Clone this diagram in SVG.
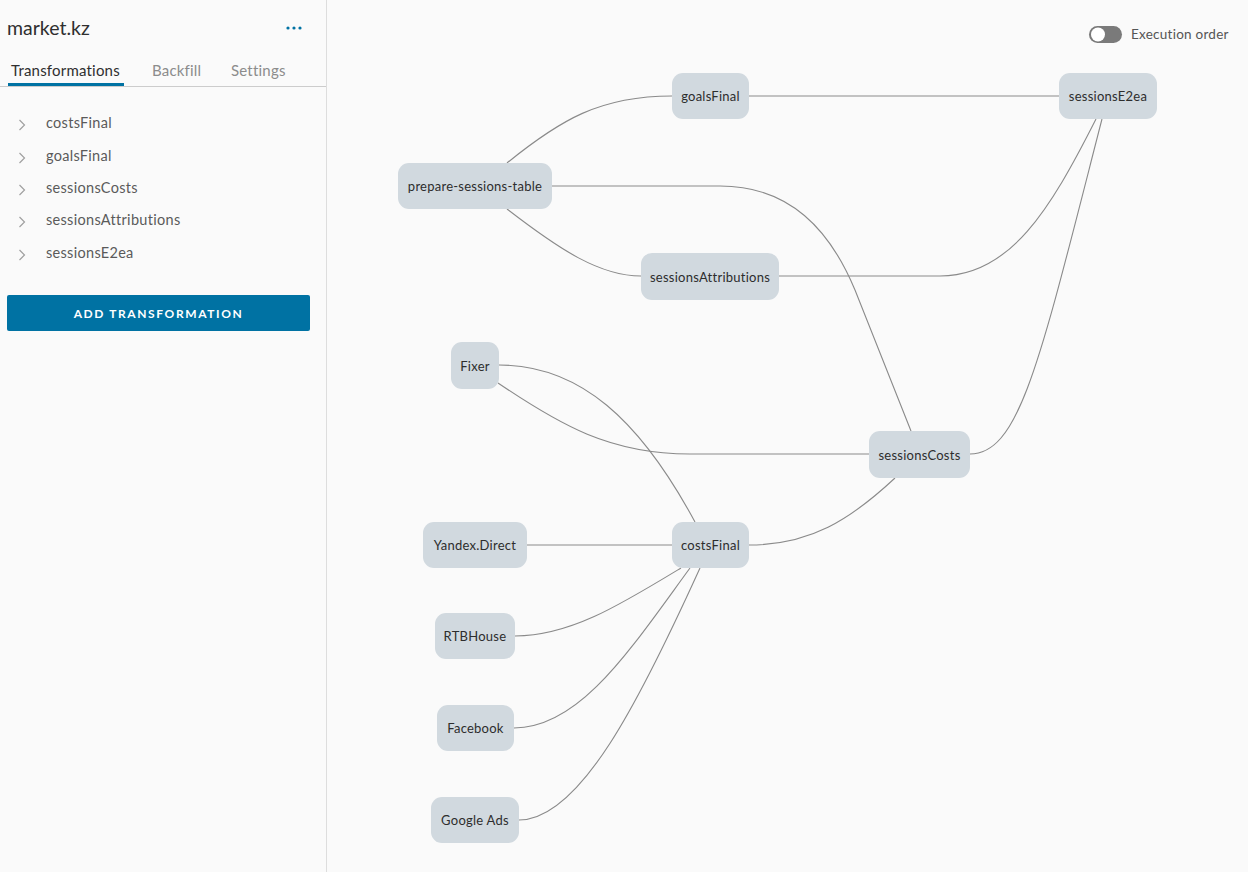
<svg xmlns="http://www.w3.org/2000/svg" width="1248" height="872" viewBox="0 0 1248 872">
<style>
.bg{fill:#fafafa}
.node rect{fill:#d1d9df;rx:11px;ry:11px}
.node text{font-family:Lato,"Open Sans",sans-serif;font-size:13px;letter-spacing:0.25px;fill:#2d2d2d;text-anchor:middle;dominant-baseline:central}
.edge{fill:none;stroke:#8a8a8a;stroke-width:1.1}
.item{font-family:Lato,"Open Sans",sans-serif;font-size:14.5px;letter-spacing:0.3px;fill:#5a5a5a}
.chev{fill:none;stroke:#a0a0a0;stroke-width:1.2}
.tab{font-family:Lato,"Open Sans",sans-serif;font-size:15px;letter-spacing:0.2px;fill:#8c8c8c}
</style>
<rect class="bg" x="0" y="0" width="1248" height="872"/>

<g id="sidebar">
  <line x1="326.5" y1="0" x2="326.5" y2="872" stroke="#dddddd" stroke-width="1"/>
  <text x="7" y="35" font-family="Lato,'Open Sans',sans-serif" font-size="19.5" fill="#2f2f2f">market.kz</text>
  <circle cx="288" cy="28" r="1.6" fill="#0072a3"/>
  <circle cx="294" cy="28" r="1.6" fill="#0072a3"/>
  <circle cx="300" cy="28" r="1.6" fill="#0072a3"/>
  <text class="tab" x="11" y="76" style="fill:#2f2f2f">Transformations</text>
  <text class="tab" x="152" y="76">Backfill</text>
  <text class="tab" x="231" y="76">Settings</text>
  <line x1="0" y1="86.5" x2="326" y2="86.5" stroke="#cccccc" stroke-width="1"/>
  <rect x="8" y="83" width="116" height="3" fill="#0072a3"/>
  <polyline class="chev" points="19.5,120 24.5,125 19.5,130"/>
  <text class="item" x="46" y="128">costsFinal</text>
  <polyline class="chev" points="19.5,153 24.5,158 19.5,163"/>
  <text class="item" x="46" y="161">goalsFinal</text>
  <polyline class="chev" points="19.5,185 24.5,190 19.5,195"/>
  <text class="item" x="46" y="193">sessionsCosts</text>
  <polyline class="chev" points="19.5,217 24.5,222 19.5,227"/>
  <text class="item" x="46" y="225">sessionsAttributions</text>
  <polyline class="chev" points="19.5,250 24.5,255 19.5,260"/>
  <text class="item" x="46" y="258">sessionsE2ea</text>
  <rect x="7" y="295" width="303" height="36" rx="2" fill="#0072a3"/>
  <text x="158.5" y="318" text-anchor="middle" font-family="Lato,'Open Sans',sans-serif" font-size="12" font-weight="bold" letter-spacing="1.6" fill="#ffffff">ADD TRANSFORMATION</text>
</g>

<g id="toggle">
  <rect x="1089" y="26" width="33" height="17" rx="8.5" fill="#7a7a7a"/>
  <circle cx="1098" cy="34.5" r="7" fill="#ffffff"/>
  <text x="1131" y="39" font-family="Lato,'Open Sans',sans-serif" font-size="13.5" letter-spacing="0.25" fill="#555555">Execution order</text>
</g>

<g id="connectors">
  <path class="edge" d="M507,163 C560,120 600,96 672,96"/>
  <path class="edge" d="M749,96 L1059,96"/>
  <path class="edge" d="M552,186 L720,186 C790,186 830,230 855,290 L911,431"/>
  <path class="edge" d="M507,209 C560,250 600,276 641,276"/>
  <path class="edge" d="M779,276 L940,276 C1010,276 1050,210 1096,119"/>
  <path class="edge" d="M970,454 C1020,454 1040,360 1102,119"/>
  <path class="edge" d="M499,365 C580,365 640,420 695,522"/>
  <path class="edge" d="M498,383 C560,425 610,454 690,454 L869,454"/>
  <path class="edge" d="M527,545 L672,545"/>
  <path class="edge" d="M749,545 C810,545 850,520 895,478"/>
  <path class="edge" d="M515,636 C570,636 620,605 681,568"/>
  <path class="edge" d="M514,728 C580,728 630,650 690,568"/>
  <path class="edge" d="M519,820 C580,820 640,700 700,568"/>
</g>

<g id="node-goalsFinal" class="node"><rect x="672" y="73" width="77" height="46"/><text x="710.5" y="96">goalsFinal</text></g>
<g id="node-sessionsE2ea" class="node"><rect x="1059" y="73" width="98" height="46"/><text x="1108" y="96">sessionsE2ea</text></g>
<g id="node-prepare-sessions-table" class="node"><rect x="398" y="163" width="154" height="46"/><text x="475" y="186">prepare-sessions-table</text></g>
<g id="node-sessionsAttributions" class="node"><rect x="641" y="253" width="138" height="47"/><text x="710" y="276.5">sessionsAttributions</text></g>
<g id="node-Fixer" class="node"><rect x="451" y="342" width="48" height="47"/><text x="475" y="365.5">Fixer</text></g>
<g id="node-sessionsCosts" class="node"><rect x="869" y="431" width="101" height="47"/><text x="919.5" y="454.5">sessionsCosts</text></g>
<g id="node-Yandex.Direct" class="node"><rect x="423" y="522" width="104" height="46"/><text x="475" y="545">Yandex.Direct</text></g>
<g id="node-costsFinal" class="node"><rect x="672" y="522" width="77" height="46"/><text x="710.5" y="545">costsFinal</text></g>
<g id="node-RTBHouse" class="node"><rect x="435" y="613" width="80" height="46"/><text x="475" y="636">RTBHouse</text></g>
<g id="node-Facebook" class="node"><rect x="437" y="705" width="77" height="46"/><text x="475.5" y="728">Facebook</text></g>
<g id="node-GoogleAds" class="node"><rect x="431" y="797" width="88" height="46"/><text x="475" y="820">Google Ads</text></g>
</svg>
